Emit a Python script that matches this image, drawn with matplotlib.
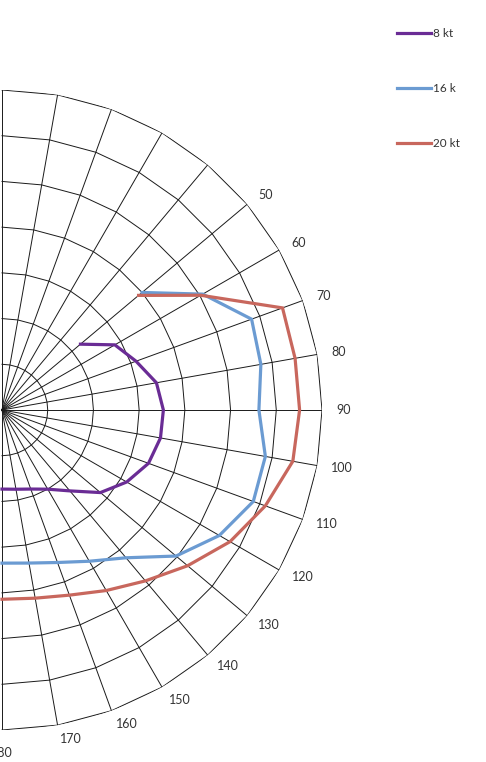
import numpy as np
import matplotlib
matplotlib.use("Agg")
import matplotlib.pyplot as plt

plt.rcParams['font.family'] = ['Lato', 'DejaVu Sans']

# Data (boat speed, knots) at true wind angles (degrees)
angles = [50, 60, 70, 80, 90, 100, 110, 120, 130, 140, 150, 160, 170, 180]
s8 = [4.48, 5.70, 6.24, 6.86, 7.06, 7.04, 6.82, 6.30, 5.62, 4.62, 4.00, 3.68, 3.52, 3.46]
s16 = [8.00, 10.14, 11.62, 11.50, 11.24, 11.70, 11.70, 10.98, 9.94, 8.44, 7.64, 7.10, 6.80, 6.70]
s20 = [7.80, 10.04, 13.06, 13.02, 13.02, 12.92, 12.26, 11.52, 10.60, 9.76, 9.12, 8.62, 8.36, 8.28]
series_labels = ["8 kt", "16 k", "20 kt"]
series_colors = ["#6a2c95", "#6b9bd2", "#c8675d"]

grid_angles = list(range(0, 190, 10))
ring_values = [2, 4, 6, 8, 10, 12, 14]
label_angles = list(range(50, 190, 10))
rmax = 14

W, H, DPI = 486, 762, 100
fig = plt.figure(figsize=(W / DPI, H / DPI), dpi=DPI)

cx, cy, R = 2, 410, 320  # pixel center and radius
ax = fig.add_axes([(cx - R) / W, (H - cy - R) / H, 2 * R / W, 2 * R / H], projection='polar')
ax.set_theta_zero_location('N')
ax.set_theta_direction(-1)
ax.set_ylim(0, rmax)
ax.set_xticks([])
ax.set_yticks([])
ax.grid(False)
ax.spines['polar'].set_visible(False)
ax.patch.set_alpha(0)

gth = np.deg2rad(grid_angles)
gc = '#1a1a1a'
for rv in ring_values:
    ax.plot(gth, [rv] * len(gth), color=gc, lw=0.7, zorder=1)
for a in grid_angles:
    ax.plot([np.deg2rad(a)] * 2, [0, rmax], color=gc, lw=0.7, zorder=1)

th = np.deg2rad(angles)
handles = []
for vals, lab, col in zip([s8, s16, s20], series_labels, series_colors):
    h, = ax.plot(th, vals, color=col, lw=2.3, label=lab, zorder=3, solid_joinstyle='miter')
    handles.append(h)

# category labels, Excel-like placement just outside the spoke ends
pad_px = 14.5
for a in label_angles:
    t = np.deg2rad(a)
    s, c = np.sin(t), np.cos(t)
    if s > 0.01:
        ha, va, k = 'left', 'center', pad_px
    else:
        ha, va, k = 'center', 'top', 17
    ax.annotate(str(a), xy=(t, rmax), xytext=(k * s * 0.72, k * c * 0.72),
                textcoords='offset points', ha=ha, va=va, fontsize=9,
                color='#333333', annotation_clip=False)

fig.legend(handles=handles, loc='upper left', bbox_to_anchor=(396.5 / W, 1 - 28.4 / H),
           frameon=False, fontsize=8.5, handlelength=2.88, handletextpad=0.17,
           labelspacing=3.72, borderpad=0, borderaxespad=0, labelcolor='#333333')

fig.savefig('out.png', dpi=DPI)
